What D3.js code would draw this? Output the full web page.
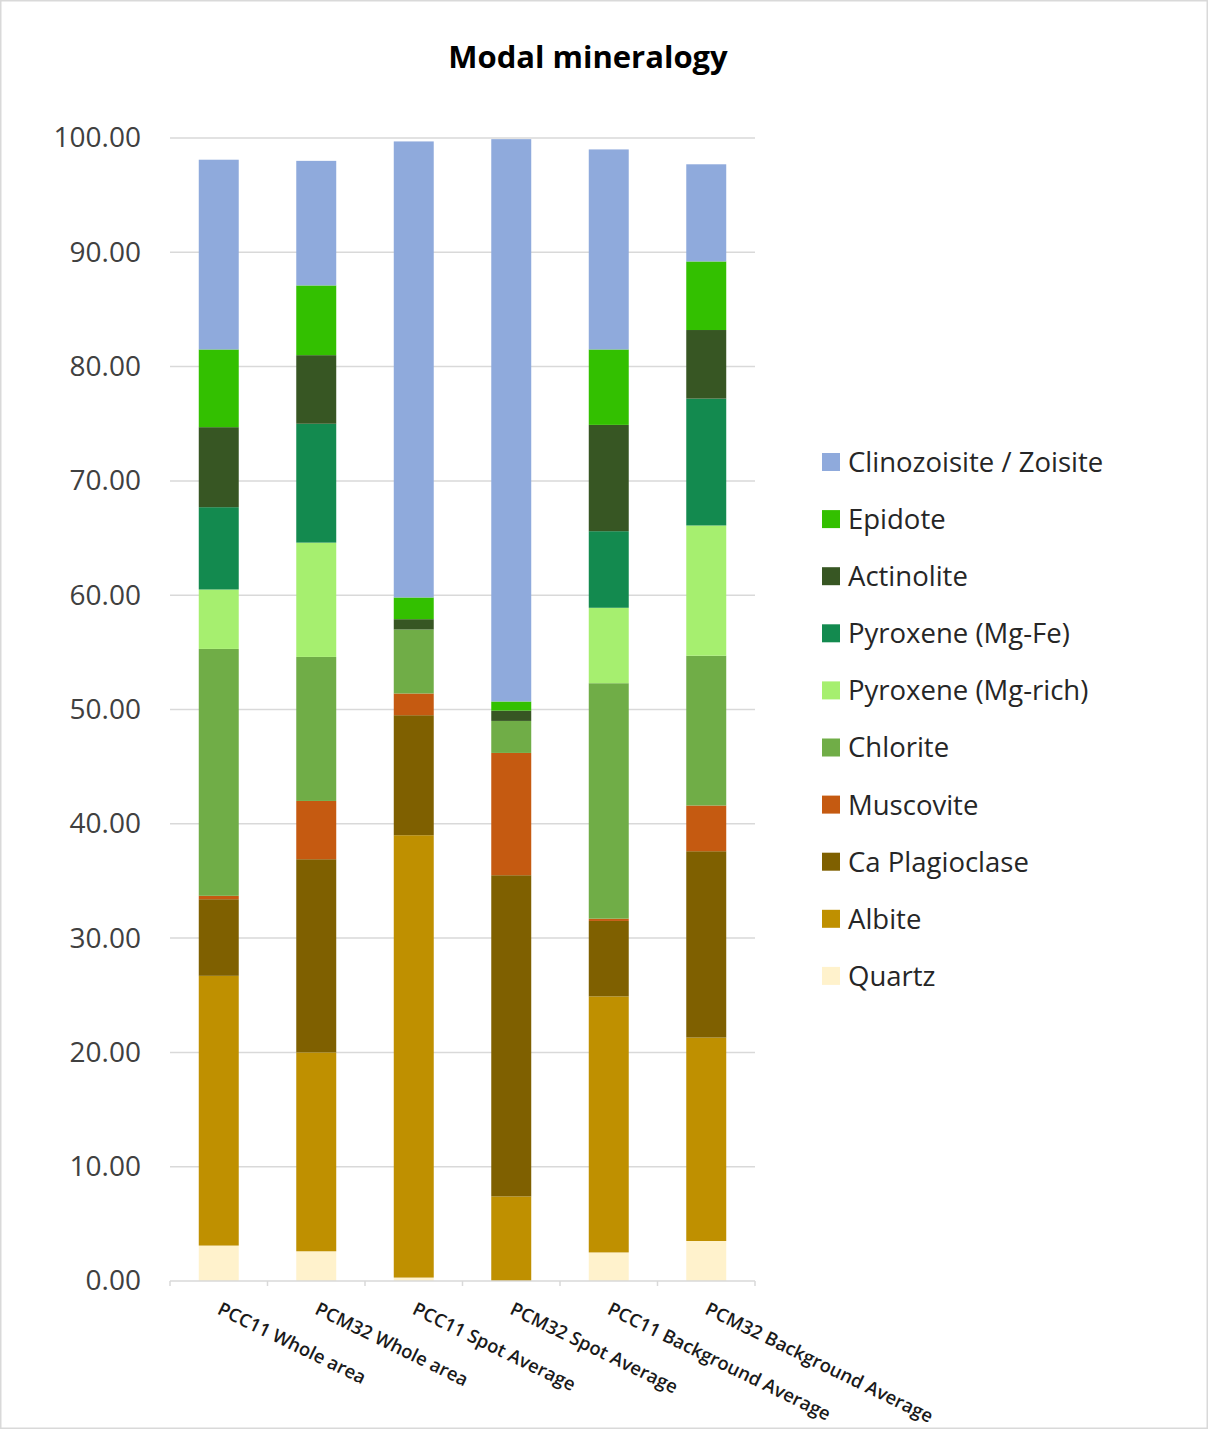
<!DOCTYPE html>
<html>
<head>
<meta charset="utf-8">
<script src="https://cdn.jsdelivr.net/npm/d3@7"></script>
<style>
    body { margin: 0; background: #fff; }
    text { font-family: "Open Sans", sans-serif; fill: #262626; }
    .title { font-weight: bold; font-size: 31px; fill: #000; }
    .y-label { font-size: 28px; fill: #404040; }
    .x-label { font-weight: 600; font-size: 18.5px; fill: #1a1a1a; }
    .legend-label { font-size: 27.5px; fill: #262626; }
</style>
</head>
<body>
<div id="chart"></div>
<script>
// categories along the x axis
const samples = [
    "PCC11 Whole area",
    "PCM32 Whole area",
    "PCC11 Spot Average",
    "PCM32 Spot Average",
    "PCC11 Background Average",
    "PCM32 Background Average",
];

// minerals, bottom of the stack first
const minerals = [
    "Quartz", "Albite", "Ca Plagioclase", "Muscovite", "Chlorite",
    "Pyroxene (Mg-rich)", "Pyroxene (Mg-Fe)", "Actinolite", "Epidote",
    "Clinozoisite / Zoisite",
];

// values per mineral, one per sample
const quartz        = [3.1, 2.6, 0.3, 0.0, 2.5, 3.5];
const albite        = [23.6, 17.4, 38.7, 7.4, 22.4, 17.8];
const caPlagioclase = [6.7, 16.9, 10.5, 28.1, 6.6, 16.3];
const muscovite     = [0.3, 5.1, 1.9, 10.7, 0.2, 4.0];
const chlorite      = [21.6, 12.6, 5.6, 2.8, 20.6, 13.1];
const pyxMgRich     = [5.2, 10.0, 0.0, 0.0, 6.6, 11.4];
const pyxMgFe       = [7.2, 10.4, 0.0, 0.0, 6.7, 11.1];
const actinolite    = [7.0, 6.0, 0.9, 0.9, 9.3, 6.0];
const epidote       = [6.8, 6.1, 1.9, 0.8, 6.6, 6.0];
const clinozoisite  = [16.6, 10.9, 39.9, 49.2, 17.5, 8.5];

const yTicks = [0, 10, 20, 30, 40, 50, 60, 70, 80, 90, 100];

const seriesValues = [quartz, albite, caPlagioclase, muscovite, chlorite,
    pyxMgRich, pyxMgFe, actinolite, epidote, clinozoisite];

const colors = ["#fff2cc", "#bf9000", "#7f6000", "#c55a11", "#70ad47",
    "#a6ef6f", "#138a4f", "#375623", "#33c000", "#8faadc"];

const config = {
    width: 1209,
    height: 1430,
    left: 170,
    right: 755,
    top: 138,
    bottom: 1281,
};

// build rows for d3.stack
const table = samples.map((s, i) => {
    const row = { sample: s };
    minerals.forEach((m, j) => { row[m] = seriesValues[j][i]; });
    return row;
});

const stacked = d3.stack().keys(minerals)(table);

const svg = d3.select('#chart')
    .append('svg')
    .attr('width', config.width)
    .attr('height', config.height)
;

// outer chart border
svg.append('rect')
    .attr('x', 0.75)
    .attr('y', 0.75)
    .attr('width', config.width - 2.5)
    .attr('height', config.height - 2.5)
    .attr('fill', 'none')
    .attr('stroke', '#d9d9d9')
    .attr('stroke-width', 1.5)
;

svg.append('text')
    .attr('class', 'title')
    .attr('x', 588)
    .attr('y', 68)
    .attr('text-anchor', 'middle')
    .text('Modal mineralogy')
;

const xScale = d3.scaleBand()
    .domain(samples)
    .range([config.left, config.right])
    .paddingInner(0.59)
    .paddingOuter(0.295)
;

const yScale = d3.scaleLinear()
    .domain([0, 100])
    .range([config.bottom, config.top])
;

// gridlines
svg.append('g')
    .selectAll('line')
    .data(yTicks.filter(d => d > 0))
    .enter()
    .append('line')
    .attr('x1', config.left)
    .attr('x2', config.right)
    .attr('y1', d => yScale(d))
    .attr('y2', d => yScale(d))
    .attr('stroke', '#d9d9d9')
    .attr('stroke-width', 1.5)
;

// y axis labels
const yAxis = d3.axisLeft(yScale)
    .tickValues(yTicks)
    .tickFormat(d3.format('.2f'))
    .tickSize(0)
    .tickPadding(0)
;
const yAxisG = svg.append('g')
    .attr('transform', `translate(${config.left - 29},0)`)
    .call(yAxis)
;
yAxisG.select('.domain').remove();
yAxisG.selectAll('text')
    .attr('class', 'y-label')
    .attr('font-family', null)
    .attr('font-size', null)
    .attr('fill', null)
;

// stacked bars
svg.append('g')
    .selectAll('g')
    .data(stacked)
    .enter()
    .append('g')
    .attr('fill', (d, i) => colors[i])
    .selectAll('rect')
    .data(d => d)
    .enter()
    .append('rect')
    .attr('x', d => xScale(d.data.sample))
    .attr('y', d => yScale(d[1]))
    .attr('width', xScale.bandwidth())
    .attr('height', d => yScale(d[0]) - yScale(d[1]))
;

// x axis line with ticks between categories
const step = xScale.step();
const boundaries = d3.range(samples.length + 1).map(i => config.left + i * step);
svg.append('line')
    .attr('x1', config.left)
    .attr('x2', config.right)
    .attr('y1', config.bottom)
    .attr('y2', config.bottom)
    .attr('stroke', '#d9d9d9')
    .attr('stroke-width', 1.5)
;
svg.append('g')
    .selectAll('line')
    .data(boundaries)
    .enter()
    .append('line')
    .attr('x1', d => d)
    .attr('x2', d => d)
    .attr('y1', config.bottom)
    .attr('y2', config.bottom + 5)
    .attr('stroke', '#d9d9d9')
    .attr('stroke-width', 1.5)
;

// rotated category labels
svg.append('g')
    .selectAll('text')
    .data(samples)
    .enter()
    .append('text')
    .attr('class', 'x-label')
    .attr('transform', d => `translate(${xScale(d) + xScale.bandwidth() / 2 + 4},1300) rotate(26)`)
    .attr('dy', '0.8em')
    .text(d => d)
;

// legend, top entry is the top of the stack
const legendOrder = minerals.map((m, i) => ({ name: m, color: colors[i] })).reverse();
const legend = svg.append('g')
    .selectAll('g')
    .data(legendOrder)
    .enter()
    .append('g')
    .attr('transform', (d, i) => `translate(822,${462 + i * 57.1})`)
;
legend.append('rect')
    .attr('x', 0)
    .attr('y', -9)
    .attr('width', 18)
    .attr('height', 18)
    .attr('fill', d => d.color)
;
legend.append('text')
    .attr('class', 'legend-label')
    .attr('x', 26)
    .attr('dy', '0.36em')
    .text(d => d.name)
;
</script>
</body>
</html>
